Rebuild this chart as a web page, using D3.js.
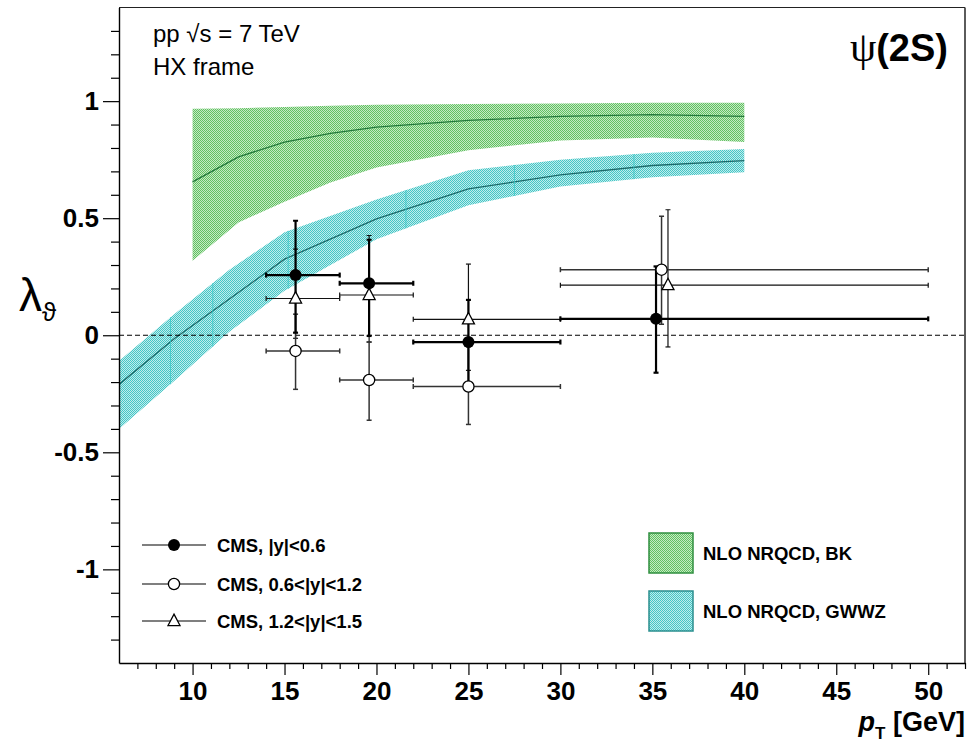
<!DOCTYPE html>
<html><head><meta charset="utf-8">
<script src="https://cdn.jsdelivr.net/npm/d3@7"></script>
<style>
body{margin:0;background:#fff;}
text{font-family:"Liberation Sans",Arial,Helvetica,sans-serif;}
</style>
</head><body>
<svg id="c" width="979" height="744"></svg>
<script>
// ---------------- DATA ----------------
const binLo = [14, 18, 22, 30];
const binHi = [18, 22, 30, 50];

// CMS, |y|<0.6 (filled circles)
const ptY1   = [15.6, 19.6, 25.0, 35.2];
const lamY1  = [0.257, 0.222, -0.029, 0.070];
const errHiY1 = [0.232, 0.186, 0.180, 0.224];
const errLoY1 = [0.246, 0.225, 0.180, 0.230];

// CMS, 0.6<|y|<1.2 (open circles)
const ptY2   = [15.6, 19.6, 25.0, 35.5];
const lamY2  = [-0.067, -0.191, -0.219, 0.280];
const errHiY2 = [0.157, 0.162, 0.170, 0.228];
const errLoY2 = [0.164, 0.172, 0.162, 0.233];

// CMS, 1.2<|y|<1.5 (open triangles)
const ptY3   = [15.6, 19.6, 25.0, 35.85];
const lamY3  = [0.157, 0.172, 0.068, 0.214];
const errHiY3 = [0.211, 0.254, 0.236, 0.322];
const errLoY3 = [0.170, 0.201, 0.218, 0.264];

// NLO NRQCD, BK band
const bkPt      = [10, 12.5, 15, 17.5, 20, 25, 30, 35, 40];
const bkCentral = [0.655, 0.762, 0.825, 0.862, 0.889, 0.918, 0.935, 0.942, 0.935];
const bkUpper   = [0.967, 0.970, 0.975, 0.980, 0.985, 0.988, 0.990, 0.993, 0.993];
const bkLower   = [0.318, 0.482, 0.570, 0.652, 0.717, 0.790, 0.832, 0.845, 0.825];

// NLO NRQCD, GWWZ band
const gwPt      = [6, 9, 12, 15, 20, 25, 30, 35, 40];
const gwCentral = [-0.21, -0.015, 0.155, 0.325, 0.497, 0.625, 0.685, 0.725, 0.746];
const gwUpper   = [-0.11, 0.09, 0.28, 0.44, 0.58, 0.705, 0.75, 0.78, 0.796];
const gwLower   = [-0.40, -0.195, 0.015, 0.19, 0.41, 0.555, 0.635, 0.675, 0.696];
// thin segment boundaries visible inside the GWWZ band
const gwSegments = [8.8, 11.1, 15.2, 21.6, 27.5, 34.0];

const xMajorTicks = [10, 15, 20, 25, 30, 35, 40, 45, 50];
const yMajorTicks = [-1, -0.5, 0, 0.5, 1];
const yTickLabels = ["-1", "-0.5", "0", "0.5", "1"];
const legendCMS = ["CMS, |y|<0.6", "CMS, 0.6<|y|<1.2", "CMS, 1.2<|y|<1.5"];
const legendTheory = ["NLO NRQCD, BK", "NLO NRQCD, GWWZ"];

// ---------------- CHART ----------------
const svg = d3.select("#c");
const L = 119, R = 965, T = 7.5, B = 663;
const x = d3.scaleLinear().domain([6, 52]).range([L, R]);
const y = d3.scaleLinear().domain([-1.4, 1.4]).range([B, T]);

const defs = svg.append("defs");
function pattern(id, col, bg) {
  const p = defs.append("pattern").attr("id", id).attr("width", 2).attr("height", 2)
    .attr("patternUnits", "userSpaceOnUse");
  p.append("rect").attr("width", 2).attr("height", 2).attr("fill", bg);
  p.append("rect").attr("x", 0).attr("y", 0).attr("width", 1).attr("height", 1).attr("fill", col);
  p.append("rect").attr("x", 1).attr("y", 1).attr("width", 1).attr("height", 1).attr("fill", col);
}
pattern("pGreen", "#62c062", "#c4eac4");
pattern("pCyan", "#44c6c6", "#c0ecec");

defs.append("clipPath").attr("id", "plotclip").append("rect")
  .attr("x", L).attr("y", T).attr("width", R - L).attr("height", B - T);

const plot = svg.append("g").attr("clip-path", "url(#plotclip)");

function band(pts, lo, hi, cen, fill, lineCol) {
  const data = pts.map((p, i) => ({p, lo: lo[i], hi: hi[i], c: cen[i]}));
  plot.append("path").datum(data)
    .attr("d", d3.area().x(d => x(d.p)).y0(d => y(d.lo)).y1(d => y(d.hi)))
    .attr("fill", fill).attr("stroke", "none");
  plot.append("path").datum(data)
    .attr("d", d3.line().x(d => x(d.p)).y(d => y(d.c)))
    .attr("fill", "none").attr("stroke", lineCol).attr("stroke-width", 1.3);
  return data;
}
band(bkPt, bkLower, bkUpper, bkCentral, "url(#pGreen)", "#237a3c");
band(gwPt, gwLower, gwUpper, gwCentral, "url(#pCyan)", "#1c6a6a");

// faint segment lines inside the GWWZ band
const interp = (arr, p) => {
  const i = Math.max(1, d3.bisectRight(gwPt, p));
  const t = (p - gwPt[i - 1]) / (gwPt[i] - gwPt[i - 1]);
  return arr[i - 1] + t * (arr[i] - arr[i - 1]);
};
gwSegments.forEach(p => {
  plot.append("line").attr("x1", x(p)).attr("x2", x(p))
    .attr("y1", y(interp(gwUpper, p))).attr("y2", y(interp(gwLower, p)))
    .attr("stroke", "#3cc8c8").attr("stroke-width", 1).attr("opacity", 0.8);
});

// zero line
plot.append("line").attr("x1", L).attr("x2", R).attr("y1", y(0)).attr("y2", y(0))
  .attr("stroke", "#000").attr("stroke-width", 1).attr("stroke-dasharray", "5,3");

// error bars
function errorBars(pts, vals, eh, el, col, w) {
  const g = plot.append("g").attr("stroke", col).attr("stroke-width", w).attr("fill", "none");
  pts.forEach((p, i) => {
    const yy = y(vals[i]), x0 = x(binLo[i]), x1 = x(binHi[i]), xx = x(p);
    const yt = y(vals[i] + eh[i]), yb = y(vals[i] - el[i]);
    g.append("line").attr("x1", x0).attr("x2", x1).attr("y1", yy).attr("y2", yy);
    g.append("line").attr("x1", x0).attr("x2", x0).attr("y1", yy - 2.5).attr("y2", yy + 2.5);
    g.append("line").attr("x1", x1).attr("x2", x1).attr("y1", yy - 2.5).attr("y2", yy + 2.5);
    g.append("line").attr("x1", xx).attr("x2", xx).attr("y1", yt).attr("y2", yb);
    g.append("line").attr("x1", xx - 2.5).attr("x2", xx + 2.5).attr("y1", yt).attr("y2", yt);
    g.append("line").attr("x1", xx - 2.5).attr("x2", xx + 2.5).attr("y1", yb).attr("y2", yb);
  });
}
errorBars(ptY3, lamY3, errHiY3, errLoY3, "#111", 1.2);
errorBars(ptY2, lamY2, errHiY2, errLoY2, "#333", 1.5);
errorBars(ptY1, lamY1, errHiY1, errLoY1, "#000", 2.2);

function triPath(cx, cy, s) {
  const h = s * 0.95;
  return `M${cx},${cy - h * 0.6} L${cx + s / 2},${cy + h * 0.4} L${cx - s / 2},${cy + h * 0.4} Z`;
}
function drawMarker(g, cx, cy, type) {
  if (type === "filled") g.append("circle").attr("cx", cx).attr("cy", cy).attr("r", 6).attr("fill", "#000");
  else if (type === "open") g.append("circle").attr("cx", cx).attr("cy", cy).attr("r", 5.6)
    .attr("fill", "#fff").attr("stroke", "#000").attr("stroke-width", 1.3);
  else g.append("path").attr("d", triPath(cx, cy, 12)).attr("fill", "#fff")
    .attr("stroke", "#000").attr("stroke-width", 1.3);
}
function markers(pts, vals, type) {
  pts.forEach((p, i) => drawMarker(plot, x(p), y(vals[i]), type));
}
markers(ptY3, lamY3, "tri");
markers(ptY2, lamY2, "open");
markers(ptY1, lamY1, "filled");

// frame (top and right)
svg.append("line").attr("x1", L).attr("x2", R).attr("y1", T).attr("y2", T).attr("stroke", "#222").attr("stroke-width", 1.2);
svg.append("line").attr("x1", R).attr("x2", R).attr("y1", T).attr("y2", B).attr("stroke", "#333").attr("stroke-width", 1.6);

// axes
const yMinor = d3.range(-13, 14).map(v => v / 10).filter(v => Math.abs(v * 2 - Math.round(v * 2)) > 1e-6);
const yAxisMinor = svg.append("g").attr("transform", `translate(${L},0)`)
  .call(d3.axisLeft(y).tickValues(yMinor).tickSize(8).tickFormat(""));
yAxisMinor.select(".domain").remove();
const yAxis = svg.append("g").attr("transform", `translate(${L},0)`)
  .call(d3.axisLeft(y).tickValues(yMajorTicks).tickSize(16).tickSizeOuter(0).tickPadding(4)
    .tickFormat((d, i) => yTickLabels[i]));
yAxis.selectAll("text").attr("font-size", 26).attr("font-weight", "bold")
  .attr("font-family", "Liberation Sans, Arial, sans-serif").attr("fill", "#000");

const xMinor = d3.range(7, 53).filter(v => v % 5 !== 0);
const xAxisMinor = svg.append("g").attr("transform", `translate(0,${B})`)
  .call(d3.axisBottom(x).tickValues(xMinor).tickSize(6).tickFormat(""));
xAxisMinor.select(".domain").remove();
const xAxis = svg.append("g").attr("transform", `translate(0,${B})`)
  .call(d3.axisBottom(x).tickValues(xMajorTicks).tickSize(12).tickSizeOuter(0).tickPadding(7)
    .tickFormat(d3.format("d")));
xAxis.selectAll("text").attr("font-size", 26).attr("font-weight", "bold")
  .attr("font-family", "Liberation Sans, Arial, sans-serif").attr("fill", "#000");
svg.selectAll(".tick line, .domain").attr("stroke", "#000").attr("stroke-width", 1.2);
xAxis.select(".domain").attr("stroke-width", 1.4);
yAxis.select(".domain").attr("stroke-width", 1.4);

// axis titles
const xt = svg.append("text").attr("x", R).attr("y", 731).attr("text-anchor", "end")
  .attr("font-weight", "bold").attr("font-size", 27);
xt.append("tspan").attr("font-style", "italic").text("p");
xt.append("tspan").attr("font-size", 17).attr("dy", 8).text("T");
xt.append("tspan").attr("dy", -8).text(" [GeV]");

const yt = svg.append("text").attr("x", 19).attr("y", 311)
  .attr("font-family", "Liberation Serif, DejaVu Serif, serif");
yt.append("tspan").attr("font-size", 46).text("λ");
yt.append("tspan").attr("font-size", 26).attr("dy", 10).text("ϑ");

// annotations
svg.append("text").attr("x", 153).attr("y", 42).attr("font-size", 24).text("pp √s = 7 TeV");
svg.append("text").attr("x", 153).attr("y", 75).attr("font-size", 24).text("HX frame");
const ps = svg.append("text").attr("x", 948).attr("y", 61).attr("text-anchor", "end");
ps.append("tspan").attr("font-family", "Liberation Serif, DejaVu Serif, serif").attr("font-size", 42).text("ψ");
ps.append("tspan").attr("font-weight", "bold").attr("font-size", 38).text("(2S)");

// legend: CMS
const legY = [545, 584, 621];
const legTypes = ["filled", "open", "tri"];
legendCMS.forEach((t, i) => {
  svg.append("line").attr("x1", 142).attr("x2", 206).attr("y1", legY[i]).attr("y2", legY[i])
    .attr("stroke", "#000").attr("stroke-width", 1.2);
  drawMarker(svg, 174, legY[i], legTypes[i]);
  svg.append("text").attr("x", 217).attr("y", legY[i] + 6.5).attr("font-size", 18.5)
    .attr("font-weight", "bold").text(t);
});

// legend: theory
const boxY = [533, 591];
const boxFill = ["url(#pGreen)", "url(#pCyan)"];
const boxStroke = ["#2f8f3f", "#2a8f8f"];
legendTheory.forEach((t, i) => {
  svg.append("rect").attr("x", 649).attr("y", boxY[i]).attr("width", 44).attr("height", 40)
    .attr("fill", boxFill[i]).attr("stroke", boxStroke[i]).attr("stroke-width", 1.5);
  svg.append("text").attr("x", 703).attr("y", boxY[i] + 26.5).attr("font-size", 18.5)
    .attr("font-weight", "bold").text(t);
});
</script>
</body></html>
